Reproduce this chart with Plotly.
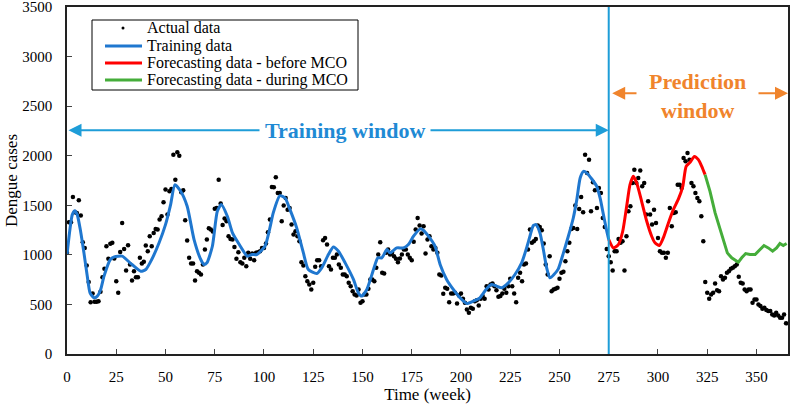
import plotly.graph_objects as go

# ---------------- data ----------------
actual_values = [
    1020, 1329, 1329, 1584, 1430, 1423, 1550, 1396, 1128, 1070,
    893, 725, 523, 611, 527, 527, 533, 627, 775, 859,
    1087, 960, 1111, 1121, 963, 735, 617, 1030, 1322, 1060,
    842, 1097, 903, 742, 835, 775, 775, 970, 913, 930,
    1094, 1037, 1188, 1087, 1221, 1262, 1255, 1356, 1389, 1530,
    1658, 1406, 1641, 1665, 2010, 1758, 2034, 2000, 1631, 1651,
    1349, 1144, 970, 913, 913, 742, 835, 819, 802, 903,
    1054, 1154, 1268, 1255, 1235, 1466, 1473, 1758, 1517, 1302,
    1366, 1339, 1188, 1161, 1154, 1080, 960, 1027, 926, 913,
    970, 886, 1020, 960,
    1013, 946, 1020, 1027, 1037, 1070, 1070, 1114, 1228,
    1356, 1685, 1681, 1782, 1624, 1624, 1339, 1497, 1574, 1456,
    1473, 1305, 1205, 1238, 1188, 1138, 926, 893, 785, 735,
    701, 651, 718, 879, 946, 946, 886, 1148, 1171, 1104,
    886, 852, 970, 970, 1003, 903, 869, 802, 802, 785,
    718, 684, 634, 601, 591, 651, 517, 533, 601, 601,
    658, 752, 752, 735, 869, 1003, 1127, 819, 812, 1020,
    1054, 1003, 1020, 987, 960, 926, 963, 1003, 1054, 1054,
    1003, 970, 946, 1131, 1255, 1372, 1295, 1215, 1289, 1013,
    1154, 1188, 1087, 1054, 1070, 1020, 802,
    792, 607, 668, 658, 523, 611, 611, 617, 510, 590,
    611, 557, 517, 450, 416, 466, 456, 533, 543, 490,
    557, 584, 557, 684, 651, 701, 711, 684, 644, 577,
    584, 611, 658, 617, 684, 758, 684, 611, 523, 768,
    819, 735, 903, 913, 1054, 1255, 1121, 1138, 1161, 1295,
    1282, 1248, 1114, 903, 802, 987, 634, 651, 658, 668,
    758, 819, 829, 936, 1037, 1121, 1262, 1272, 1497,
    1262, 1463, 1584, 1429, 2010, 1825, 1960, 1440, 1732, 1651,
    1473, 1674, 1624, 1372, 1282, 1060, 987, 926, 842,
    1037, 1037, 1161, 1121, 1138, 842, 1188, 1440, 1490, 1725,
    1859, 1725, 1775, 1852, 1691, 1725, 1406, 1540, 1406, 1305,
    1456, 1322, 1171, 1037, 1020, 1020, 970, 1020, 1473, 1289,
    1423, 1429, 1708, 1708, 1674, 1977, 1943, 2027, 1960, 1725,
    1691, 1624, 1574, 1540, 1389, 1138, 725, 617, 557, 601,
    617, 711, 644, 634, 785, 752, 768, 819, 835, 859,
    869, 886, 903, 778, 718, 711, 651, 634, 651, 651,
    517, 550, 550, 500, 483, 456, 466, 443, 433, 433,
    399, 389, 416, 389, 366, 366, 399, 309,
]
actual_weeks = list(range(len(actual_values)))

train_weeks = [0, 2.7, 4, 5.2, 6.9, 8.6, 10.3, 11.7, 13.7, 15.4,
               17.1, 18.8, 22, 24, 28, 32, 37.4, 40, 43, 46.7,
               50, 52.6, 54.8, 57.7, 61, 64.5, 67.9, 69.5, 71, 73.8,
               76.3, 78.3, 81.4, 84, 88, 91.5, 94, 96.3, 100.5, 103,
               104.7, 108.1, 110.7, 113.2, 116.6, 120, 122.5, 126.8, 129.3, 132.7,
               135.2, 137.8, 141.2, 145.4, 147.9, 149.6, 152.2, 155.6, 157.8, 159.8,
               162.4, 164, 167.4, 170.8, 173.3, 175.9, 179.3, 180.9, 183.5, 186.8,
               189.4, 192.7, 196.1, 199.5, 202.9, 206.2, 209.6, 213, 215.5, 218.1,
               220.6, 224, 227.4, 230.8, 233.3, 235, 236.7, 238.1, 240.1, 241.8,
               243.5, 245.2, 247.2, 249.4, 252, 254.5, 257, 258.8, 260.5, 262.2,
               263.9, 266.4, 268.9, 270.6, 272.3, 274, 275]
train_values = [1000, 1406, 1446, 1406, 1238, 1020, 785, 617, 567, 584,
                651, 785, 953, 980, 987, 920, 835, 852, 953, 1120,
                1305, 1507, 1708, 1641, 1490, 1154, 953, 903, 920, 1087,
                1440, 1507, 1389, 1221, 1087, 987, 1003, 1003, 1087, 1272,
                1423, 1597, 1574, 1456, 1272, 1020, 852, 812, 869, 1003,
                1080, 1037, 919, 752, 617, 584, 651, 852, 970, 970,
                1054, 1020, 1070, 1070, 1104, 1188, 1262, 1248, 1188, 1087,
                903, 752, 651, 567, 510, 533, 567, 658, 701, 684,
                668, 718, 802, 919, 1070, 1188, 1295, 1305, 1221, 1054,
                869, 768, 802, 859, 1020, 1188, 1372, 1557, 1775, 1842,
                1825, 1765, 1691, 1574, 1406, 1238, 1154]

red_weeks = [275, 277.4, 279.9, 282.1, 284.1, 285.8, 287.5, 289.2, 291.7, 294.3,
             296.8, 298.5, 300.7, 302.7, 305.3, 307.8, 310.4, 312.6, 314.3, 316.3,
             318.5, 320.5, 322.2, 323.9]
red_values = [1154, 1070, 1104, 1238, 1490, 1708, 1792, 1725, 1540, 1339,
              1188, 1121, 1094, 1171, 1322, 1456, 1564, 1691, 1893, 1933,
              1993, 1960, 1893, 1809]

green_weeks = [323.9, 326.4, 329, 331.5, 333.2, 335.2, 337.4, 340.8, 342.5, 344.5,
               346.7, 349.3, 351.8, 353.8, 356, 358.2, 360.2, 361.9, 363.6, 365.3]
green_values = [1809, 1641, 1423, 1255, 1154, 1020, 970, 926, 970, 1013,
                1003, 1003, 1054, 1094, 1070, 1037, 1070, 1114, 1094, 1114]

x_ticks = [0, 25, 50, 75, 100, 125, 150, 175, 200, 225, 250, 275, 300, 325, 350]
y_ticks = [0, 500, 1000, 1500, 2000, 2500, 3000, 3500]

series_names = ["Actual data", "Training data",
                "Forecasting data - before MCO", "Forecasting data - during MCO"]

FONT = "Liberation Serif"
BLUE_LINE = "#1f77cf"
RED = "#ff0000"
GREEN = "#45ad3a"
SPLIT_BLUE = "#1e9dd8"
ORANGE = "#f0842c"

W, H = 790, 404
ML, MR, MT, MB = 67, 2, 7, 50
PW, PH = W - ML - MR, H - MT - MB


def px_x(p):  # pixel -> paper x
    return (p - ML) / PW


def px_y(p):  # pixel -> paper y
    return (H - MB - p) / PH


fig = go.Figure()
fig.add_trace(go.Scatter(x=actual_weeks, y=actual_values, mode="markers",
                         marker=dict(color="black", size=4.5), name=series_names[0]))
fig.add_trace(go.Scatter(x=train_weeks, y=train_values, mode="lines",
                         line=dict(color=BLUE_LINE, width=3, shape="spline", smoothing=0.6),
                         name=series_names[1]))
fig.add_trace(go.Scatter(x=red_weeks, y=red_values, mode="lines",
                         line=dict(color=RED, width=3, shape="spline", smoothing=0.6),
                         name=series_names[2]))
fig.add_trace(go.Scatter(x=green_weeks, y=green_values, mode="lines",
                         line=dict(color=GREEN, width=3), name=series_names[3]))

split = train_weeks[-1]
fig.add_shape(type="line", x0=split, x1=split, y0=0, y1=1, yref="paper",
              line=dict(color=SPLIT_BLUE, width=2))

# double-headed arrows + window labels
fig.add_annotation(x=split, y=2258, ax=0, ay=2258, axref="x", ayref="y",
                   xref="x", yref="y", text="", showarrow=True,
                   arrowside="end+start", arrowhead=2, arrowsize=1.3,
                   arrowwidth=2, arrowcolor=SPLIT_BLUE, standoff=0, startstandoff=0)
fig.add_annotation(x=141, y=2258, xref="x", yref="y", text="<b>Training window</b>",
                   showarrow=False, bgcolor="white", borderpad=5,
                   font=dict(family=FONT, size=22, color="#1f8ad4"))
fig.add_annotation(x=366, y=2631, ax=split + 1, ay=2631, axref="x", ayref="y",
                   xref="x", yref="y", text="", showarrow=True,
                   arrowside="end+start", arrowhead=2, arrowsize=1.3,
                   arrowwidth=2, arrowcolor=ORANGE, standoff=0, startstandoff=0)
fig.add_annotation(x=320.3, y=2606, xref="x", yref="y",
                   text="<b>Prediction<br>window</b>",
                   showarrow=False, bgcolor="white", borderpad=12,
                   font=dict(family=FONT, size=22, color=ORANGE))

# ---- hand-drawn legend box (to match the compact row spacing) ----
LEG_L, LEG_R, LEG_T, LEG_B = 92, 358, 20, 90
rows = [28, 46, 63, 80]
fig.add_shape(type="rect", xref="paper", yref="paper",
              x0=px_x(LEG_L), x1=px_x(LEG_R), y0=px_y(LEG_B), y1=px_y(LEG_T),
              line=dict(color="black", width=1), fillcolor="white", layer="above")
legend_styles = [None, BLUE_LINE, RED, GREEN]
for name, style, ry in zip(series_names, legend_styles, rows):
    if style is None:
        fig.add_shape(type="circle", xref="paper", yref="paper",
                      x0=px_x(121.5), x1=px_x(124.5), y0=px_y(ry + 1.5), y1=px_y(ry - 1.5),
                      fillcolor="black", line=dict(color="black", width=0), layer="above")
    else:
        fig.add_shape(type="line", xref="paper", yref="paper",
                      x0=px_x(105), x1=px_x(142), y0=px_y(ry), y1=px_y(ry),
                      line=dict(color=style, width=3), layer="above")
    fig.add_annotation(x=px_x(145), y=px_y(ry), xref="paper", yref="paper",
                       text=name, showarrow=False, xanchor="left", yanchor="middle",
                       font=dict(family=FONT, size=16, color="black"))

fig.update_layout(
    width=W, height=H,
    margin=dict(l=ML, r=MR, t=MT, b=MB),
    plot_bgcolor="white", paper_bgcolor="white",
    font=dict(family=FONT, size=15, color="black"),
    showlegend=False,
    xaxis=dict(range=[0, 366], tickvals=x_ticks, ticks="inside", ticklen=5,
               showline=True, linecolor="#222", linewidth=1.5, mirror=True,
               showgrid=False, zeroline=False, automargin=False,
               ticklabelstandoff=8, ticklabeloverflow="allow",
               tickfont=dict(family=FONT, size=15),
               title=dict(text="Time (week)", font=dict(family=FONT, size=17), standoff=2)),
    yaxis=dict(range=[0, 3500], tickvals=y_ticks, ticks="inside", ticklen=5,
               showline=True, linecolor="#222", linewidth=1.5, mirror=True,
               showgrid=False, zeroline=False, automargin=False,
               ticklabelstandoff=10, ticklabeloverflow="allow",
               tickfont=dict(family=FONT, size=15),
               title=dict(text="Dengue cases", font=dict(family=FONT, size=17), standoff=0)),
)

fig.write_html("out.html", config={"displayModeBar": False},
               post_script="document.body.style.margin='0';document.body.style.padding='0';")
